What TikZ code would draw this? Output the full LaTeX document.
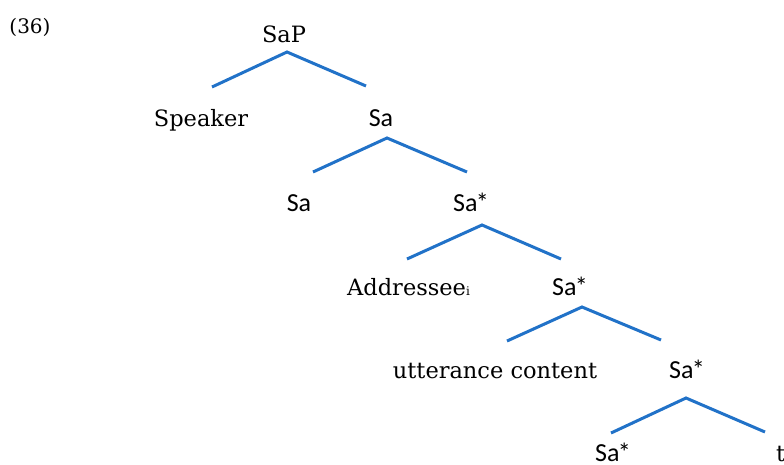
\documentclass[tikz,border=0pt]{standalone}
\usepackage{fontspec}
\setmainfont{DejaVu Serif}
\newfontfamily\sanslbl{Carlito}
\definecolor{treeblue}{RGB}{33,114,200}
\newcommand{\SaStar}{Sa\kern-1.5pt*}
\begin{document}
\begin{tikzpicture}[x=1pt,y=-1pt,
  lbl/.style={anchor=base,inner sep=0pt,font=\fontsize{22.5}{27}\selectfont},
  cat/.style={anchor=base,inner sep=0pt,font=\sanslbl\fontsize{26}{30}\selectfont},
  branch/.style={draw=treeblue,line width=3pt,line cap=butt,line join=miter}]
\useasboundingbox (0,0) rectangle (784,464);
\node[anchor=base,inner sep=0pt,font=\fontsize{20}{24}\selectfont] (ex) at (30,33) {(36)};
% level 0
\node[lbl] (sap) at (284,42) {SaP};
\coordinate (p0) at (287,52); \coordinate (l0) at (212,87); \coordinate (r0) at (366,86);
% level 1
\node[lbl] (speaker) at (201,126) {Speaker};
\node[cat] (sa1) at (381,126) {Sa};
\coordinate (p1) at (387,138); \coordinate (l1) at (313,172); \coordinate (r1) at (467,172);
% level 2
\node[cat] (sa2) at (299,211) {Sa};
\node[cat] (sas2) at (471,211) {\SaStar};
\coordinate (p2) at (482,225); \coordinate (l2) at (407,259); \coordinate (r2) at (561,259);
% level 3
\node[lbl,anchor=base west] (addr) at (347,295) {Addressee{\fontsize{12}{14}\selectfont i}};
\node[cat] (sas3) at (570,295) {\SaStar};
\coordinate (p3) at (582,307); \coordinate (l3) at (507,341); \coordinate (r3) at (661,340);
% level 4
\node[lbl] (utt) at (495,378) {utterance content};
\node[cat] (sas4) at (687,378) {\SaStar};
\coordinate (p4) at (686,398); \coordinate (l4) at (611,433); \coordinate (r4) at (765,432);
% level 5
\node[cat] (sas5) at (613,461) {\SaStar};
\node[lbl,anchor=base west] (t) at (776,461) {t};
% branches
\draw[branch] (l0) -- (p0) -- (r0);
\draw[branch] (l1) -- (p1) -- (r1);
\draw[branch] (l2) -- (p2) -- (r2);
\draw[branch] (l3) -- (p3) -- (r3);
\draw[branch] (l4) -- (p4) -- (r4);
\end{tikzpicture}
\end{document}
